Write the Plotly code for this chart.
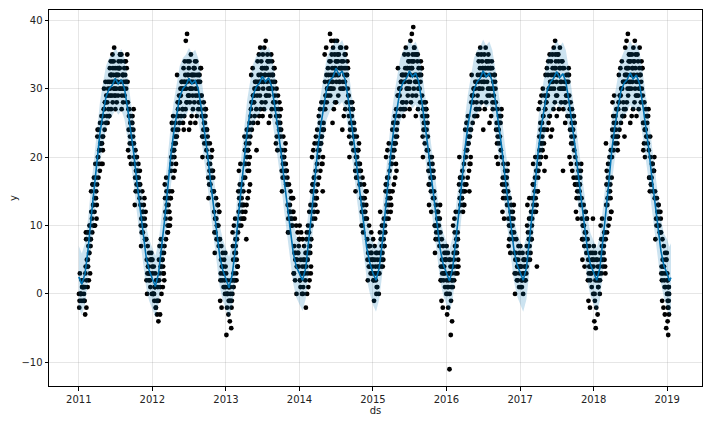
import calendar
import datetime as dt
import math
import plotly.graph_objects as go

obs_2011 = [
    [0, -1, 1, -2, 0, 1, -1, 2, 0, 3, 1, -1],
    [-3, -2, 1, 2, 3, 4, 5, 4, 6, 7, 8, 9, 9, 10, 3],
    [8, 9, 10, 10, 11, 12, 13, 12, 14, 15, 16, 17, 19, 13],
    [16, 17, 18, 19, 19, 20, 21, 22, 22, 23, 24, 25, 26, 21],
    [23, 24, 25, 25, 26, 27, 28, 28, 29, 30, 31, 26, 27],
    [26, 27, 28, 29, 30, 31, 32, 33, 34, 35, 36, 33, 32, 31, 30, 29, 34],
    [27, 28, 29, 30, 31, 32, 33, 34, 35, 35, 32, 31, 33, 30, 29],
    [27, 28, 29, 30, 31, 32, 33, 34, 35, 32, 30, 31, 28],
    [28, 27, 26, 25, 24, 24, 23, 22, 22, 21, 20, 19, 25, 27],
    [22, 21, 20, 19, 18, 17, 16, 15, 14, 13, 20, 18, 16],
    [16, 15, 14, 13, 12, 11, 10, 9, 8, 7, 12, 10],
    [8, 7, 6, 5, 4, 3, 2, 1, 0, 0, 3, 2, 5],
]
obs_extra_2011 = [
    [0, 1, -1, 0, 2, 1, 0, -1],
    [2, 5, 6, 8, 9, 4, 7, 10],
    [11, 13, 14, 15, 12, 16, 10, 17],
    [20, 21, 22, 23, 24, 19, 22, 25],
    [27, 28, 29, 30, 26, 28, 29, 31],
    [30, 31, 32, 33, 31, 32, 29, 34],
    [31, 32, 33, 34, 30, 32, 33, 35],
    [30, 31, 32, 33, 29, 32, 34, 31],
    [26, 25, 24, 23, 27, 22, 24, 26],
    [19, 18, 17, 16, 20, 15, 18, 17],
    [11, 10, 12, 9, 13, 8, 11, 10],
    [5, 4, 3, 6, 2, 4, 3, 5],
]
obs_2012 = [
    [5, 4, 3, 2, 1, 0, -1, -2, -3, -4, 0, 1, 2, -1, 3],
    [-1, -3, 0, 1, 2, 3, 4, 5, 6, 7, 8, 5, 3],
    [7, 8, 9, 10, 11, 12, 13, 14, 15, 16, 17, 10, 12, 14],
    [14, 15, 17, 18, 19, 20, 21, 22, 23, 24, 25, 26, 20, 22, 18],
    [23, 24, 25, 26, 27, 28, 29, 30, 31, 32, 26, 28, 30, 27],
    [25, 26, 27, 28, 29, 30, 31, 37, 38, 32, 33, 34, 30, 31, 29, 24],
    [24, 25, 26, 27, 28, 29, 30, 31, 32, 33, 34, 35, 30, 31, 32, 28],
    [25, 26, 27, 28, 29, 30, 31, 32, 33, 34, 29, 31, 27],
    [29, 28, 27, 26, 25, 24, 23, 22, 21, 20, 26, 24],
    [23, 22, 21, 20, 19, 18, 17, 16, 15, 14, 20, 18],
    [15, 14, 13, 12, 11, 10, 9, 8, 7, 6, 10, 12],
    [8, 7, 6, 5, 4, 3, 2, 1, 0, -1, -2, 4, 2, 1],
]
obs_extra_2012 = [
    [0, 1, -1, 2, 0, 1, -2, 2],
    [2, 4, 6, 3, 5, 1, 7, 4],
    [11, 12, 13, 10, 14, 15, 9, 12],
    [20, 21, 22, 23, 19, 24, 21, 25],
    [27, 28, 29, 30, 26, 28, 29, 31],
    [30, 31, 32, 33, 31, 32, 28, 34],
    [31, 32, 33, 34, 30, 32, 29, 33],
    [30, 31, 32, 33, 29, 32, 28, 31],
    [26, 25, 24, 23, 27, 22, 24, 26],
    [19, 18, 17, 16, 20, 15, 18, 17],
    [11, 10, 12, 9, 13, 8, 11, 10],
    [5, 4, 3, 6, 2, 4, 3, 1],
]
obs_2013 = [
    [3, 2, 1, 0, -1, -2, -3, -4, -5, -6, 0, 1, -1, 2],
    [0, 1, 2, 3, 4, 5, 6, 7, 8, 9, 10, 11, 2, 4],
    [9, 10, 11, 12, 13, 14, 15, 16, 17, 18, 19, 13, 15],
    [11, 12, 13, 14, 15, 16, 17, 8, 18, 19, 20, 21, 22, 23, 24, 25, 19, 21],
    [23, 24, 25, 26, 27, 28, 29, 30, 31, 32, 33, 28, 30],
    [21, 25, 26, 27, 28, 29, 30, 31, 32, 33, 34, 35, 36, 31, 30],
    [26, 27, 28, 29, 30, 31, 32, 33, 34, 35, 36, 37, 31, 32],
    [25, 26, 27, 28, 29, 30, 31, 32, 33, 34, 35, 30, 28],
    [31, 30, 29, 28, 27, 26, 25, 24, 23, 22, 21, 27, 25],
    [24, 23, 22, 21, 20, 19, 18, 17, 16, 15, 20, 18],
    [17, 16, 15, 14, 13, 12, 11, 10, 9, 12, 14],
    [12, 11, 10, 9, 8, 7, 6, 5, 4, 3, 2, 0, 6, 8],
]
obs_extra_2013 = [
    [0, -1, 1, -2, 0, 1, -1, 2],
    [3, 5, 6, 4, 7, 2, 8, 5],
    [12, 13, 14, 11, 15, 16, 10, 13],
    [20, 21, 22, 23, 19, 24, 21, 18],
    [27, 28, 29, 30, 26, 28, 29, 31],
    [30, 31, 32, 33, 31, 32, 29, 34],
    [31, 32, 33, 34, 30, 33, 29, 35],
    [30, 31, 32, 33, 29, 32, 34, 31],
    [27, 26, 25, 24, 28, 23, 25, 26],
    [20, 19, 18, 17, 21, 16, 19, 18],
    [12, 11, 13, 10, 14, 9, 12, 11],
    [6, 5, 4, 7, 3, 5, 4, 6],
]
obs_2014 = [
    [10, 9, 8, 7, 6, 5, 4, 3, 2, 1, 0, 5, 3],
    [-2, 0, 1, 2, 3, 4, 5, 6, 7, 8, 9, 10, 12, 13, 6],
    [10, 11, 12, 13, 14, 15, 16, 17, 18, 19, 20, 21, 22, 23, 24, 15],
    [16, 17, 18, 19, 20, 21, 22, 23, 24, 25, 26, 27, 28, 15, 22],
    [24, 27, 28, 29, 30, 31, 32, 33, 34, 35, 36, 30, 31],
    [38, 37, 25, 27, 28, 29, 30, 31, 32, 33, 34, 35, 36, 37, 32, 30],
    [28, 29, 30, 31, 32, 33, 34, 35, 36, 37, 31, 33],
    [24, 26, 27, 28, 29, 30, 31, 32, 33, 34, 35, 36, 30],
    [29, 28, 27, 26, 25, 24, 23, 22, 21, 20, 25, 23],
    [24, 23, 22, 21, 20, 19, 18, 17, 16, 15, 21, 19],
    [18, 17, 16, 15, 14, 13, 12, 11, 10, 9, 14],
    [11, 10, 9, 8, 7, 6, 5, 4, 3, 2, 7, 5],
]
obs_extra_2014 = [
    [2, 3, 1, 4, 2, 3, 0, 5],
    [5, 6, 7, 4, 8, 3, 9, 6],
    [13, 14, 15, 12, 16, 17, 11, 14],
    [21, 22, 23, 24, 20, 25, 22, 19],
    [28, 29, 30, 31, 27, 29, 30, 32],
    [31, 32, 33, 34, 32, 33, 30, 35],
    [32, 33, 34, 35, 31, 33, 34, 36],
    [31, 32, 33, 34, 30, 33, 35, 32],
    [27, 26, 25, 24, 28, 23, 25, 27],
    [20, 19, 18, 17, 21, 16, 19, 18],
    [13, 12, 14, 11, 15, 10, 13, 12],
    [6, 5, 4, 7, 3, 5, 4, 6],
]
obs_2015 = [
    [8, 7, 6, 5, 4, 3, 2, 1, 0, -1, 4, 6, 3],
    [3, 4, 5, 6, 7, 8, 9, 10, 11, 12, 5, 7],
    [10, 11, 12, 13, 14, 15, 16, 17, 18, 19, 20, 21, 22, 15, 9],
    [13, 15, 16, 17, 18, 19, 20, 21, 22, 23, 24, 25, 26, 27, 20],
    [25, 26, 27, 28, 29, 30, 31, 32, 33, 29, 31],
    [26, 27, 28, 29, 30, 31, 32, 33, 34, 35, 36, 30, 31],
    [27, 28, 29, 30, 31, 37, 38, 39, 32, 33, 34, 35, 36, 31],
    [26, 27, 28, 29, 30, 31, 32, 33, 34, 35, 30, 32],
    [29, 28, 27, 26, 25, 24, 23, 22, 21, 20, 24, 26],
    [21, 20, 19, 18, 17, 17, 16, 15, 14, 13, 12, 18],
    [14, 13, 12, 11, 10, 9, 8, 7, 6, 10, 12],
    [9, 8, 7, 6, 5, 4, 3, 2, 1, 0, -1, -2, 4, 5, 2],
]
obs_extra_2015 = [
    [2, 3, 1, 4, 2, 5, 0, 3],
    [5, 6, 7, 8, 4, 9, 6, 10],
    [13, 14, 15, 12, 16, 17, 11, 14],
    [21, 22, 23, 24, 20, 25, 22, 19],
    [28, 29, 30, 31, 27, 29, 30, 32],
    [31, 32, 33, 34, 32, 33, 30, 35],
    [32, 33, 34, 35, 31, 33, 34, 36],
    [31, 32, 33, 34, 30, 33, 35, 32],
    [27, 26, 25, 24, 28, 23, 25, 27],
    [19, 18, 17, 16, 20, 15, 18, 17],
    [11, 10, 12, 9, 13, 8, 11, 10],
    [5, 4, 3, 6, 2, 4, 3, 5],
]
obs_2016 = [
    [7, 6, 5, 4, 3, 2, -2, -11, -6, -4, -3, 1, 0, -1, 2, 1],
    [1, 2, 3, 4, 5, 6, 7, 8, 9, 10, 11, 12, 6, 4],
    [12, 13, 14, 15, 16, 17, 18, 19, 20, 15, 17],
    [15, 16, 17, 18, 19, 20, 21, 22, 23, 24, 25, 26, 15, 20],
    [24, 25, 26, 27, 28, 29, 30, 31, 32, 28, 30],
    [26, 27, 28, 29, 30, 31, 32, 33, 34, 35, 36, 30],
    [24, 27, 28, 29, 30, 31, 32, 33, 34, 35, 36, 31, 33],
    [25, 26, 27, 28, 29, 30, 31, 32, 33, 34, 30],
    [28, 27, 26, 25, 24, 23, 22, 21, 20, 19, 25],
    [20, 19, 18, 17, 16, 15, 14, 13, 12, 11, 17],
    [15, 14, 13, 12, 11, 10, 9, 8, 7, 6, 11],
    [9, 8, 7, 6, 5, 4, 3, 2, 1, 0, 4, 6],
]
obs_extra_2016 = [
    [2, 3, 1, 4, 0, 3, 5, 2],
    [5, 6, 7, 8, 4, 9, 6, 3],
    [13, 14, 15, 12, 16, 17, 14, 13],
    [21, 22, 23, 24, 20, 25, 22, 19],
    [28, 29, 30, 31, 27, 29, 30, 26],
    [31, 32, 33, 34, 32, 33, 30, 35],
    [32, 33, 34, 35, 31, 33, 34, 30],
    [31, 32, 33, 29, 30, 33, 28, 32],
    [26, 25, 24, 23, 27, 22, 24, 26],
    [18, 17, 16, 15, 19, 14, 17, 16],
    [11, 10, 12, 9, 13, 8, 11, 10],
    [5, 4, 3, 6, 2, 4, 3, 5],
]
obs_2017 = [
    [7, 6, 5, 4, 3, 2, 1, 0, 3, 4, 5, 2],
    [4, 5, 6, 7, 8, 9, 10, 11, 12, 13, 14, 8],
    [11, 12, 13, 14, 15, 4, 16, 17, 18, 19, 20, 15],
    [18, 19, 20, 21, 22, 23, 24, 25, 26, 27, 28, 29, 30, 24],
    [18, 20, 24, 25, 26, 27, 28, 29, 30, 31, 32, 33, 34, 35, 29],
    [23, 24, 27, 28, 29, 30, 31, 32, 33, 34, 35, 36, 37, 31],
    [26, 27, 28, 29, 30, 31, 32, 33, 34, 35, 36, 30],
    [18, 25, 26, 27, 28, 29, 30, 31, 32, 33, 29, 31],
    [29, 28, 27, 26, 25, 24, 23, 22, 21, 20, 19, 18, 17, 16],
    [20, 19, 18, 17, 16, 15, 14, 13, 12, 11, 16],
    [14, 13, 12, 11, 10, 9, 8, 7, 6, 5, 4, 11],
    [8, 7, 6, 5, 4, 3, 2, 1, 0, -1, -2, 4, 11],
]
obs_extra_2017 = [
    [2, 3, 4, 1, 5, 3, 2, 4],
    [6, 7, 8, 9, 5, 10, 7, 11],
    [13, 14, 15, 16, 12, 17, 14, 18],
    [21, 22, 23, 24, 20, 25, 22, 26],
    [28, 29, 30, 31, 27, 29, 32, 26],
    [31, 32, 33, 34, 32, 33, 30, 35],
    [32, 33, 34, 35, 31, 33, 34, 30],
    [31, 32, 33, 30, 29, 32, 28, 31],
    [26, 25, 24, 23, 27, 22, 24, 26],
    [18, 17, 16, 15, 19, 14, 17, 16],
    [10, 9, 11, 8, 12, 7, 10, 9],
    [5, 4, 3, 6, 2, 4, 3, 5],
]
obs_2018 = [
    [7, 6, 5, 4, 3, -4, -5, 2, 1, 0, -1, -2, -3, 3, 5],
    [2, 3, 4, 5, 6, 7, 8, 9, 10, 11, 6],
    [8, 9, 10, 11, 12, 13, 14, 15, 16, 17, 18, 19, 20, 21, 22],
    [20, 21, 22, 23, 24, 25, 26, 27, 28, 29, 24],
    [23, 24, 25, 26, 27, 28, 29, 30, 31, 32, 33, 34, 28],
    [26, 27, 28, 29, 30, 31, 32, 33, 34, 35, 36, 37, 38, 31, 23],
    [25, 26, 27, 28, 29, 30, 31, 32, 33, 34, 35, 36, 37, 31],
    [26, 27, 28, 29, 30, 31, 32, 33, 34, 35, 36, 30],
    [29, 28, 27, 26, 25, 24, 23, 22, 21, 20, 26],
    [21, 20, 19, 18, 17, 16, 15, 14, 23, 19],
    [15, 14, 13, 12, 11, 10, 9, 8, 11],
    [9, 8, 7, 6, 5, 4, 3, 2, 1, 0, -1, -2, -3, -5, 3],
]
obs_extra_2018 = [
    [2, 3, 1, 4, 0, 3, 5, 2],
    [4, 5, 6, 7, 3, 8, 5, 9],
    [13, 14, 15, 12, 16, 17, 11, 14],
    [22, 23, 24, 25, 21, 26, 23, 27],
    [28, 29, 30, 31, 27, 29, 30, 26],
    [31, 32, 33, 34, 32, 33, 30, 35],
    [32, 33, 34, 35, 31, 33, 34, 30],
    [31, 32, 33, 34, 30, 33, 29, 32],
    [26, 25, 24, 23, 27, 22, 24, 25],
    [18, 17, 16, 19, 20, 15, 17, 18],
    [12, 11, 10, 13, 9, 14, 12, 10],
    [5, 4, 3, 6, 2, 4, 1, 5],
]
obs_2019 = [
    [3, 2, 1, 0, -1, -2, -3, -4, -6, 1],
]
obs_extra_2019 = [
    [0, 1, -1, 2, -2, 0],
]
obs_last_day_2019 = 10  # observations end around 10 Jan 2019

# ---------------- forecast (yhat), values on the 1st and 16th of each month ----------------
yhat_2011 = [2.5, 1.4, 3.0, 6.5, 10.5, 15.0, 20.0, 23.5, 26.3, 28.8, 30.0, 30.5,
             31.5, 30.7, 31.3, 30.0, 27.0, 24.0, 20.5, 16.5, 12.5, 8.8, 5.5, 3.5]
yhat_2012 = [2.3, 1.1, 3.0, 6.5, 10.5, 15.0, 20.0, 23.5, 26.3, 28.8, 30.0, 30.5,
             31.5, 30.7, 31.2, 30.0, 27.0, 24.0, 20.5, 16.5, 12.5, 8.8, 5.5, 3.5]
yhat_2013 = [2.0, 0.9, 2.8, 6.5, 10.7, 15.2, 20.3, 23.8, 26.6, 29.1, 30.3, 30.8,
             31.8, 31.0, 31.6, 30.3, 27.3, 24.3, 20.8, 16.8, 12.8, 9.2, 6.0, 4.0]
yhat_2014 = [3.0, 2.0, 3.8, 7.5, 11.5, 16.0, 21.0, 24.5, 27.5, 30.0, 31.2, 31.7,
             33.0, 32.0, 32.6, 31.3, 28.3, 25.2, 21.7, 17.7, 13.7, 10.0, 6.7, 4.6]
yhat_2015 = [3.0, 2.0, 3.8, 7.5, 11.5, 16.0, 21.0, 24.5, 27.3, 29.8, 31.0, 31.5,
             32.6, 31.7, 32.3, 31.0, 28.0, 25.0, 21.5, 17.5, 13.5, 9.8, 6.5, 4.3]
yhat_2016 = [2.9, 1.9, 3.8, 7.5, 11.5, 16.0, 21.0, 24.5, 27.3, 29.8, 31.0, 31.5,
             32.6, 31.7, 32.3, 31.0, 28.0, 25.0, 21.5, 17.5, 13.5, 9.8, 6.5, 4.3]
yhat_2017 = [3.0, 2.0, 3.8, 7.5, 11.5, 16.0, 21.0, 24.5, 27.3, 29.8, 31.0, 31.5,
             32.5, 31.6, 32.2, 31.0, 28.0, 25.0, 21.5, 17.5, 13.5, 9.8, 6.5, 4.3]
yhat_2018 = [3.0, 2.0, 3.8, 7.5, 11.5, 16.0, 21.0, 24.4, 27.2, 29.6, 30.8, 31.3,
             32.3, 31.4, 32.0, 30.8, 27.8, 24.8, 21.3, 17.3, 13.3, 9.6, 6.3, 4.1]
yhat_2019 = [3.0, 1.9, 2.4]
yhat_2019_days = [1, 12, 20]

# half-width of the uncertainty band, per year
band_half = {2011: 4.5, 2012: 4.5, 2013: 4.5, 2014: 4.5, 2015: 4.6,
             2016: 4.6, 2017: 4.6, 2018: 4.7, 2019: 5.0}

year_ticks = [2011, 2012, 2013, 2014, 2015, 2016, 2017, 2018, 2019]
y_ticks = [-10, 0, 10, 20, 30, 40]

# ---------------- build traces ----------------
obs_by_year = {2011: (obs_2011, obs_extra_2011), 2012: (obs_2012, obs_extra_2012),
               2013: (obs_2013, obs_extra_2013), 2014: (obs_2014, obs_extra_2014),
               2015: (obs_2015, obs_extra_2015), 2016: (obs_2016, obs_extra_2016),
               2017: (obs_2017, obs_extra_2017), 2018: (obs_2018, obs_extra_2018),
               2019: (obs_2019, obs_extra_2019)}


def stride_for(n):
    for k in (5, 7, 3, 11, 13):
        if math.gcd(k, n) == 1:
            return k
    return 1


obs_x, obs_y = [], []
for year, (main, extra) in obs_by_year.items():
    for m, (vals_a, vals_b) in enumerate(zip(main, extra), start=1):
        vals = vals_a + vals_b
        ndays = calendar.monthrange(year, m)[1]
        if year == 2019:
            ndays = obs_last_day_2019
        n = len(vals)
        k = stride_for(n)
        for i, v in enumerate(vals):
            slot = (i * k) % n  # spread the readings over the days of the month
            obs_x.append(dt.datetime(year, m, 1) + dt.timedelta(days=(slot + 0.5) * ndays / n))
            obs_y.append(v)

yhat_by_year = {2011: yhat_2011, 2012: yhat_2012, 2013: yhat_2013, 2014: yhat_2014,
                2015: yhat_2015, 2016: yhat_2016, 2017: yhat_2017, 2018: yhat_2018}
fx, fy, flo, fhi = [], [], [], []
for year, vals in yhat_by_year.items():
    for k, v in enumerate(vals):
        m = k // 2 + 1
        d = 1 if k % 2 == 0 else 16
        fx.append(dt.datetime(year, m, d))
        fy.append(v)
        flo.append(v - band_half[year])
        fhi.append(v + band_half[year])
for d, v in zip(yhat_2019_days, yhat_2019):
    fx.append(dt.datetime(2019, 1, d))
    fy.append(v)
    flo.append(v - band_half[2019])
    fhi.append(v + band_half[2019])

fig = go.Figure()
fig.add_trace(go.Scatter(x=obs_x, y=obs_y, mode="markers",
                         marker=dict(color="black", size=4.8, line=dict(width=0)),
                         showlegend=False, hoverinfo="skip"))
fig.add_trace(go.Scatter(x=fx, y=fy, mode="lines",
                         line=dict(color="#0072B2", width=1.6),
                         showlegend=False))
fig.add_trace(go.Scatter(x=fx, y=flo, mode="lines", line=dict(width=0),
                         showlegend=False, hoverinfo="skip"))
fig.add_trace(go.Scatter(x=fx, y=fhi, mode="lines", line=dict(width=0),
                         fill="tonexty", fillcolor="rgba(0,114,178,0.2)",
                         showlegend=False, hoverinfo="skip"))

axis_common = dict(showline=True, linecolor="black", linewidth=1, mirror=True,
                   ticks="outside", ticklen=3.5, tickwidth=1, tickcolor="black",
                   showgrid=True, gridcolor="rgba(128,128,128,0.2)", gridwidth=1,
                   zeroline=False, automargin=False,
                   tickfont=dict(size=10, color="#222222"))

# the page body adds an 8px offset, so the figure is 8px smaller than the window
fig.update_layout(
    width=704, height=416,
    margin=dict(l=41, r=10, t=2, b=38),
    paper_bgcolor="white", plot_bgcolor="white",
    font=dict(family="DejaVu Sans", size=10, color="#222222"),
    xaxis=dict(type="date",
               range=[dt.datetime(2010, 8, 6), dt.datetime(2019, 6, 23)],
               tickvals=[dt.datetime(y, 1, 1) for y in year_ticks],
               ticktext=[str(y) for y in year_ticks],
               title=dict(text="ds", standoff=3, font=dict(size=10)),
               **axis_common),
    yaxis=dict(range=[-13.45, 41.5], tickvals=y_ticks,
               title=dict(text="y", standoff=6, font=dict(size=10)),
               **axis_common),
)

fig.write_html("out.html")
